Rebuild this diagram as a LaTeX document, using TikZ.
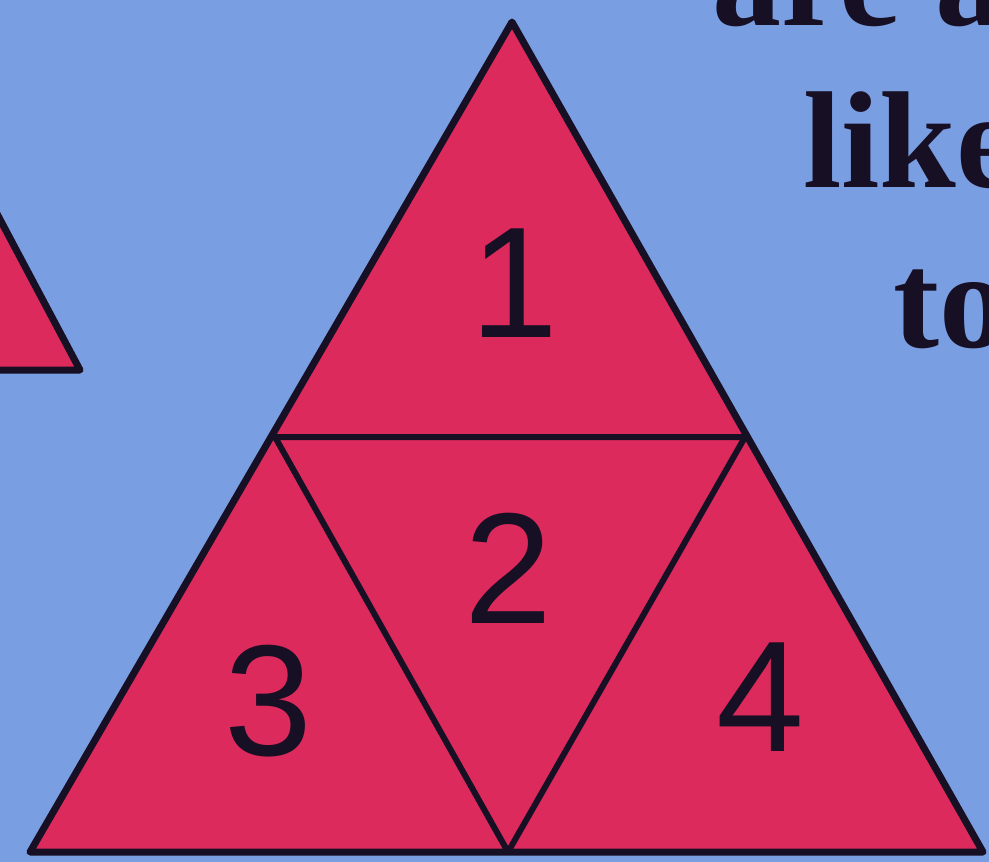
\documentclass[tikz,border=0pt]{standalone}
\usepackage{fontspec}
\setmainfont{Liberation Serif}
\newfontfamily\digitfont{Liberation Sans}
\usepackage{xcolor}
\definecolor{skyBack} {HTML}{7A9EE2}
\definecolor{faceFill}{HTML}{DC2A5C}
\definecolor{edgeDark}{HTML}{170F24}
\usetikzlibrary{positioning}

\begin{document}
\begin{tikzpicture}[
    x=1pt, y=-1pt,
    every node/.style={inner sep=0pt},
    face/.style={fill=faceFill, draw=edgeDark, line width=7pt, line join=round},
    cut/.style={draw=edgeDark, line width=6pt, line join=round},
    num/.style={font=\digitfont\fontsize{158}{158}\selectfont, text=edgeDark},
    word/.style={font=\bfseries\fontsize{138}{138}\selectfont, text=edgeDark, anchor=base west}
]
% Frame and background
\useasboundingbox (0,0) rectangle (989,862);
\clip (0,0) rectangle (989,862);
\fill[skyBack] (0,0) rectangle (989,862);
% Small triangle cut off at the left
\draw[face] (-120,370) -- (80,370) -- (-5,210) -- cycle;
% Big triangle and its corners
\coordinate (top) at (512,22);
\coordinate (bl)  at (30,852);
\coordinate (br)  at (983,852);
\coordinate (ml)  at (275,437);
\coordinate (mr)  at (745,437);
\coordinate (mb)  at (508,852);
\draw[face] (bl) -- (top) -- (br) -- cycle;
% Inner triangle splits it in four
\draw[cut] (ml) -- (mr) -- (mb) -- cycle;
% Face numbers
\node[num] (n1) at (514,283) {1};
\node[num] (n2) at (508,568) {2};
\node[num] (n3) at (268,701) {3};
\node[num] (n4) at (760,697) {4};
% Text running off the right edge
\node[word] (w1) at (712,25)  {are a};
\node[word] (w2) at (803,187) {like};
\node[word] (w3) at (893,347) {to};
\end{tikzpicture}
\end{document}
